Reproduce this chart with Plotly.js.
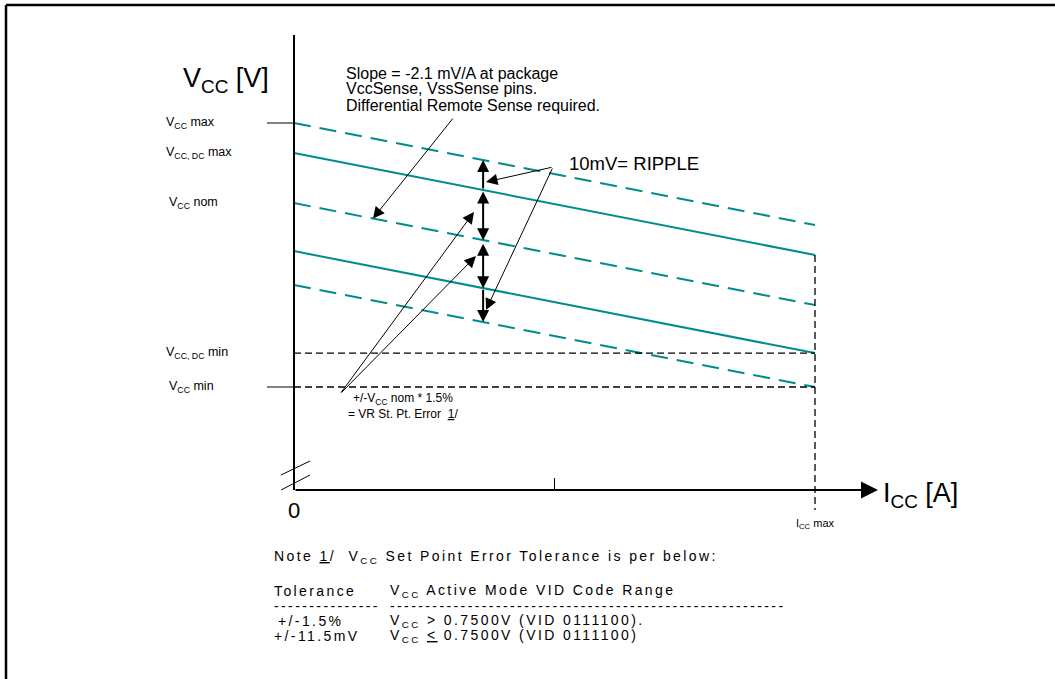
<!DOCTYPE html>
<html>
<head>
<meta charset="utf-8">
<script src="https://cdn.plot.ly/plotly-3.0.1.min.js"></script>
<style>html,body{margin:0;padding:0;background:#fff;}#chart{width:1055px;height:679px;}</style>
</head>
<body>
<div id="chart"></div>
<script>
// ---------------- data ----------------
// Load-line levels, in mV relative to Vcc min at Icc max, at Icc = 0 and at Icc = Icc max
const levelNames = ['V<sub>CC</sub> max', 'V<sub>CC, DC</sub> max', 'V<sub>CC</sub> nom', 'V<sub>CC, DC</sub> min', 'V<sub>CC</sub> min'];
const iccRange = [0, 1];                 // Icc as fraction of Icc max
const vAtZero = [88, 78, 61.3, 45.3, 34];
const vAtMax  = [54, 44, 27.3, 11.3, 0];
const labelAtMax = [false, false, false, true, true]; // label read at Icc max end
const rippleIcc = 0.363;                 // Icc where ripple / tolerance arrows are drawn
const xTickVals = [0, 0.5, 1];
const xTickText = ['0', '', 'I<sub>CC</sub> max'];
const noteLines = {
  note: 'Note <u>1</u>/&nbsp; V<sub>CC</sub> Set Point Error Tolerance is per below:',
  head: ['Tolerance', 'V<sub>CC</sub> Active Mode VID Code Range'],
  dash: ['---------------', '--------------------------------------------------------'],
  row1: ['+/-1.5%', 'V<sub>CC</sub> &gt; 0.7500V (VID 0111100).'],
  row2: ['+/-11.5mV', 'V<sub>CC</sub> <u>&lt;</u> 0.7500V (VID 0111100)']
};

// ---------------- layout helpers ----------------
const W = 1055, H = 679;
const X = p => (p - 294) / 521;        // pixel -> Icc fraction
const Y = p => (387 - p) / 3;          // pixel -> mV
const PX = p => p / W, PY = p => 1 - p / H;
const level = (i, x) => vAtZero[i] + (vAtMax[i] - vAtZero[i]) * x;
const FONT = 'Liberation Sans, Arial, Helvetica, sans-serif';
const TEAL = '#008c8c';
const lineStyle = [
  {color: TEAL, width: 2, dash: '17px,9px'},
  {color: TEAL, width: 2, dash: 'solid'},
  {color: TEAL, width: 2, dash: '17px,9px'},
  {color: TEAL, width: 2, dash: 'solid'},
  {color: TEAL, width: 2, dash: '17px,9px'}
];

const traces = levelNames.map((n, i) => ({
  type: 'scatter', mode: 'lines', name: n,
  x: iccRange, y: [vAtZero[i], vAtMax[i]],
  line: lineStyle[i], hoverinfo: 'skip'
}));

const vAxis = Y(490);
const shapes = [];
const L = (x0, y0, x1, y1, w, dash, ref) => shapes.push({type: 'line', xref: ref || 'x', yref: ref || 'y', x0, y0, x1, y1, line: {color: '#000', width: w, dash: dash || 'solid'}});
// frame
shapes.push({type: 'line', xref: 'paper', yref: 'paper', x0: PX(6), x1: 1, y0: PY(5), y1: PY(5), line: {color: '#000', width: 2.5}});
shapes.push({type: 'line', xref: 'paper', yref: 'paper', x0: PX(6), x1: PX(6), y0: 0, y1: PY(5), line: {color: '#000', width: 2.5}});
// y axis
L(0, vAxis, 0, Y(35), 2);
// x ticks
xTickVals.forEach(v => { if (v > 0 && v < 1) L(v, vAxis, v, Y(478), 1); });
// axis break marks
L(X(281), Y(475), X(310), Y(461), 1);
L(X(281), Y(490), X(310), Y(475), 1);
// Vcc max / Vcc min ticks
L(X(267), vAtZero[0], 0, vAtZero[0], 1);
L(X(267), vAtMax[4], 0, vAtMax[4], 1);
// limit dashed lines at Icc max
L(0, vAtMax[3], 1, vAtMax[3], 1.3, '7px,4px');
L(0, vAtMax[4], 1, vAtMax[4], 1.3, '7px,4px');
L(1, vAtMax[1], 1, Y(510), 1.3, '7px,4px');

const annotations = [];
const arrow = (xh, yh, xt, yt, o) => annotations.push(Object.assign({
  x: xh, y: yh, ax: xt, ay: yt, xref: 'x', yref: 'y', axref: 'x', ayref: 'y',
  text: '', showarrow: true, arrowhead: 2, arrowsize: 2.3, arrowwidth: 1,
  arrowcolor: '#000', standoff: 0, startstandoff: 0
}, o || {}));
const txt = (text, x, y, size, o) => annotations.push(Object.assign({
  text, x: PX(x), y: PY(y), xref: 'paper', yref: 'paper', xanchor: 'left', yanchor: 'middle',
  showarrow: false, font: {family: FONT, size, color: '#000'}
}, o || {}));

// x axis with arrow
arrow(X(878), vAxis, 0, vAxis, {arrowwidth: 2, arrowsize: 1.7});
// ripple / tolerance arrows
const r = rippleIcc;
const big = {arrowwidth: 2, arrowsize: 1.2};
arrow(r, level(0, r), r, level(1, r), big);
arrow(r, level(2, r), r, level(1, r), Object.assign({arrowside: 'end+start', startarrowhead: 2, startarrowsize: 1.2}, big));
arrow(r, level(3, r), r, level(2, r) - 0.7, Object.assign({arrowside: 'end+start', startarrowhead: 2, startarrowsize: 1.2}, big));
arrow(r, level(4, r), r, level(3, r), big);
// pointer arrows
arrow(X(373), level(2, X(373)), X(454), Y(117));
arrow(X(486), Y(182), X(553), Y(167));
arrow(X(486), Y(310), X(553), Y(167));
arrow(X(474), Y(212), X(340), Y(394));
arrow(X(476), Y(256), X(340), Y(394));

// texts
txt('V<sub>CC</sub> [V]', 181, 80, 27);
levelNames.forEach((n, i) => {
  const v = labelAtMax[i] ? vAtMax[i] : vAtZero[i];
  annotations.push({text: n, x: PX(i === 2 || i === 4 ? 167 : 164), y: v, xref: 'paper', yref: 'y',
    xanchor: 'left', yanchor: 'middle', showarrow: false, font: {family: FONT, size: 12.5, color: '#000'}});
});
txt('Slope = -2.1 mV/A at package', 344, 73, 16);
txt('VccSense, VssSense pins.', 344, 89, 16);
txt('Differential Remote Sense required.', 344, 105, 16);
txt('10mV= RIPPLE', 567, 163, 18.5);
txt('+/-V<sub>CC</sub> nom * 1.5%', 351, 399, 12);
txt('= VR St. Pt. Error&nbsp; <u>1</u>/', 346, 414, 12);
xTickVals.forEach((v, i) => {
  if (!xTickText[i]) return;
  annotations.push({text: xTickText[i], x: v, y: i === 0 ? Y(510) : Y(524), xref: 'x', yref: 'y',
    xanchor: 'center', yanchor: 'middle', showarrow: false, font: {family: FONT, size: i === 0 ? 22 : 11, color: '#000'}});
});
txt('I<sub>CC</sub> [A]', 881, 495, 27);

const sp = s => '<span style="letter-spacing:2.4px">' + s + '</span>';
const NS = 14;
txt(sp(noteLines.note), 272, 557, NS);
txt(sp(noteLines.head[0]), 272, 591, NS);
txt(sp(noteLines.head[1]), 388, 591, NS);
txt(sp(noteLines.dash[0]), 272, 606, NS);
txt(sp(noteLines.dash[1]), 388, 606, NS);
txt(sp(noteLines.row1[0]), 276, 621, NS);
txt(sp(noteLines.row1[1]), 388, 621, NS);
txt(sp(noteLines.row2[0]), 272, 636, NS);
txt(sp(noteLines.row2[1]), 388, 636, NS);

const layout = {
  width: W, height: H, margin: {l: 0, r: 0, t: 0, b: 0, pad: 0},
  paper_bgcolor: '#fff', plot_bgcolor: '#fff', showlegend: false, hovermode: false,
  xaxis: {range: [X(0), X(W)], visible: false, fixedrange: true},
  yaxis: {range: [Y(H), Y(0)], visible: false, fixedrange: true},
  shapes, annotations
};
Plotly.newPlot('chart', traces, layout, {staticPlot: true, displayModeBar: false});
</script>
</body>
</html>
